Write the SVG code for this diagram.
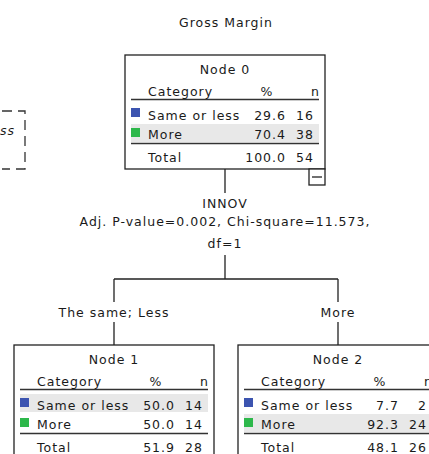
<svg xmlns="http://www.w3.org/2000/svg" width="429" height="454" viewBox="0 0 429 454">
<style>
text{font-family:"DejaVu Sans","Liberation Sans",sans-serif;font-size:12.5px;letter-spacing:1px;fill:#1a1a1a}
.m{text-anchor:middle}
.e{text-anchor:end}
.box{fill:#fff;stroke:#222;stroke-width:1.3}
.rule{stroke:#333;stroke-width:1.4}
.band{fill:#e8e8e8}
.blue{fill:#3c54b0}
.green{fill:#2db84b}
.conn{stroke:#222;stroke-width:1.3;fill:none}
.dash{stroke:#333;stroke-width:1.3;fill:none;stroke-dasharray:10 6}
</style>
<rect width="429" height="454" fill="#fff"/>
<text class="m" x="226" y="27">Gross Margin</text>
<g id="legend">
<path class="dash" d="M2 111H25V169H2"/>
<text x="0" y="135" font-style="italic">ss</text>
</g>
<g id="connectors">
<path class="conn" d="M225 169V193M225 255V279M114 279H338M114 279V302M338 279V302M114 322V345M338 322V345"/>
<text class="m" x="225" y="208">INNOV</text>
<text class="m" x="225" y="226">Adj. P-value=0.002, Chi-square=11.573,</text>
<text class="m" x="225" y="248">df=1</text>
<text class="m" x="114" y="317">The same; Less</text>
<text class="m" x="338" y="317">More</text>
</g>
<g id="node0" transform="translate(125,55)">
<rect class="box" x="0" y="0" width="200" height="114"/>
<rect class="band" x="6" y="69" width="188" height="18"/>
<text class="m" x="100" y="19">Node 0</text>
<text x="23" y="41">Category</text>
<text class="m" x="142" y="41">%</text>
<text class="e" x="195" y="41">n</text>
<line class="rule" x1="6" y1="44.5" x2="194" y2="44.5"/>
<rect class="blue" x="6" y="53" width="9" height="9"/>
<text x="23" y="65">Same or less</text>
<text class="e" x="161" y="65">29.6</text>
<text class="e" x="189" y="65">16</text>
<rect class="green" x="6" y="73" width="9" height="9"/>
<text x="23" y="84">More</text>
<text class="e" x="161" y="84">70.4</text>
<text class="e" x="189" y="84">38</text>
<line class="rule" x1="6" y1="88.5" x2="194" y2="88.5"/>
<text x="23" y="107">Total</text>
<text class="e" x="161" y="107">100.0</text>
<text class="e" x="189" y="107">54</text>
<rect class="box" x="184" y="114" width="16" height="16"/>
<line class="rule" x1="187" y1="122" x2="197" y2="122"/>
</g>
<g id="node1" transform="translate(14,345)">
<rect class="box" x="0" y="0" width="200" height="114"/>
<rect class="band" x="6" y="49" width="188" height="18"/>
<text class="m" x="100" y="19">Node 1</text>
<text x="23" y="41">Category</text>
<text class="m" x="142" y="41">%</text>
<text class="e" x="195" y="41">n</text>
<line class="rule" x1="6" y1="44.5" x2="194" y2="44.5"/>
<rect class="blue" x="6" y="53" width="9" height="9"/>
<text x="23" y="65">Same or less</text>
<text class="e" x="161" y="65">50.0</text>
<text class="e" x="189" y="65">14</text>
<rect class="green" x="6" y="73" width="9" height="9"/>
<text x="23" y="84">More</text>
<text class="e" x="161" y="84">50.0</text>
<text class="e" x="189" y="84">14</text>
<line class="rule" x1="6" y1="88.5" x2="194" y2="88.5"/>
<text x="23" y="107">Total</text>
<text class="e" x="161" y="107">51.9</text>
<text class="e" x="189" y="107">28</text>
</g>
<g id="node2" transform="translate(238,345)">
<rect class="box" x="0" y="0" width="200" height="114"/>
<rect class="band" x="6" y="69" width="188" height="18"/>
<text class="m" x="100" y="19">Node 2</text>
<text x="23" y="41">Category</text>
<text class="m" x="142" y="41">%</text>
<text class="e" x="195" y="41">n</text>
<line class="rule" x1="6" y1="44.5" x2="194" y2="44.5"/>
<rect class="blue" x="6" y="53" width="9" height="9"/>
<text x="23" y="65">Same or less</text>
<text class="e" x="161" y="65">7.7</text>
<text class="e" x="189" y="65">2</text>
<rect class="green" x="6" y="73" width="9" height="9"/>
<text x="23" y="84">More</text>
<text class="e" x="161" y="84">92.3</text>
<text class="e" x="189" y="84">24</text>
<line class="rule" x1="6" y1="88.5" x2="194" y2="88.5"/>
<text x="23" y="107">Total</text>
<text class="e" x="161" y="107">48.1</text>
<text class="e" x="189" y="107">26</text>
</g>
</svg>
